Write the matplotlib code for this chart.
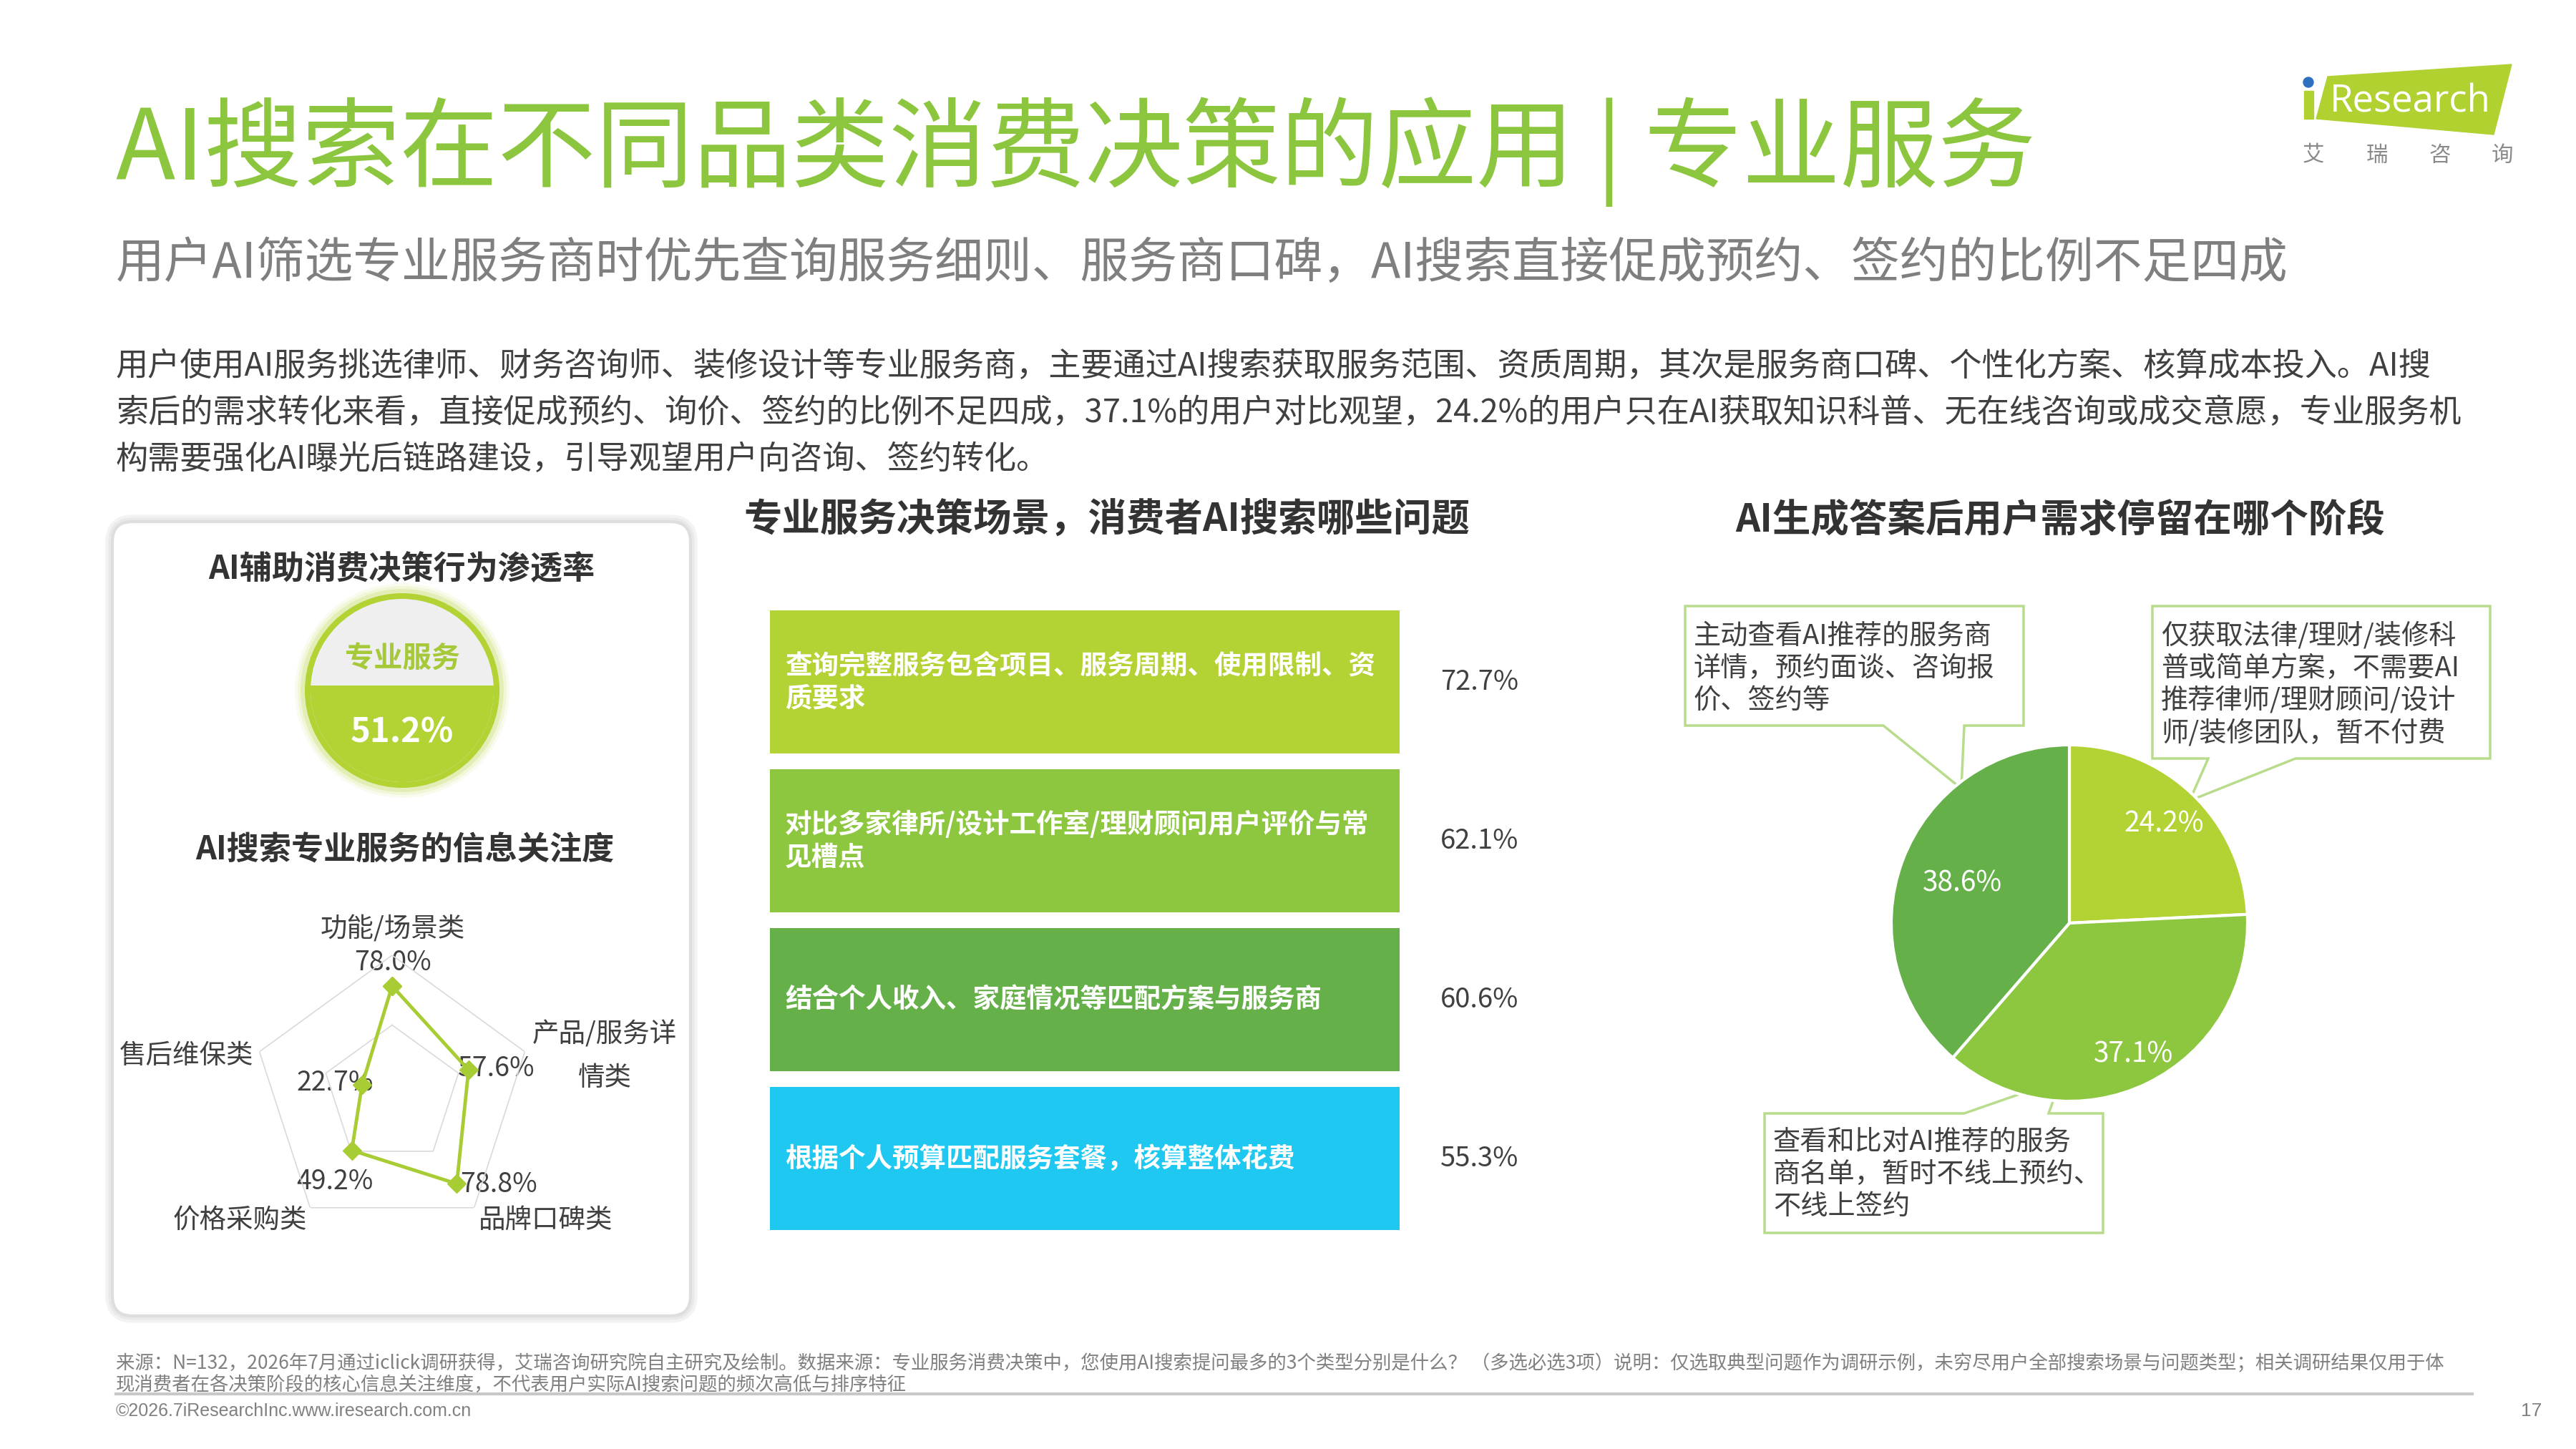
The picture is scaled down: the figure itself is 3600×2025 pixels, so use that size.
import numpy as np
import matplotlib.pyplot as plt
from matplotlib.patches import Circle, Rectangle, Polygon, FancyBboxPatch

plt.rcParams['font.family'] = ['Noto Sans CJK SC', 'DejaVu Sans']

# 数据
penetration = 51.2

radar_labels = ['功能/场景类', '产品/服务详\n情类', '品牌口碑类', '价格采购类', '售后维保类']
radar_values = [78.0, 57.6, 78.8, 49.2, 22.7]

bar_labels = ['查询完整服务包含项目、服务周期、使用限制、资\n质要求',
              '对比多家律所/设计工作室/理财顾问用户评价与常\n见槽点',
              '结合个人收入、家庭情况等匹配方案与服务商',
              '根据个人预算匹配服务套餐，核算整体花费']
bar_values = [72.7, 62.1, 60.6, 55.3]

pie_labels = ['仅获取法律/理财/装修科\n普或简单方案，不需要AI\n推荐律师/理财顾问/设计\n师/装修团队，暂不付费',
              '查看和比对AI推荐的服务\n商名单，暂时不线上预约、\n不线上签约',
              '主动查看AI推荐的服务商\n详情，预约面谈、咨询报\n价、签约等']
pie_values = [24.2, 37.1, 38.6]

body_lines = [
    '用户使用AI服务挑选律师、财务咨询师、装修设计等专业服务商，主要通过AI搜索获取服务范围、资质周期，其次是服务商口碑、个性化方案、核算成本投入。AI搜',
    '索后的需求转化来看，直接促成预约、询价、签约的比例不足四成，37.1%的用户对比观望，24.2%的用户只在AI获取知识科普、无在线咨询或成交意愿，专业服务机',
    '构需要强化AI曝光后链路建设，引导观望用户向咨询、签约转化。',
]
foot_lines = [
    '来源：N=132，2026年7月通过iclick调研获得，艾瑞咨询研究院自主研究及绘制。数据来源：专业服务消费决策中，您使用AI搜索提问最多的3个类型分别是什么？ （多选必选3项）说明：仅选取典型问题作为调研示例，未穷尽用户全部搜索场景与问题类型；相关调研结果仅用于体',
    '现消费者在各决策阶段的核心信息关注维度，不代表用户实际AI搜索问题的频次高低与排序特征',
]

GREEN_T = '#8cc63f'
G1, G2, G3, CYAN = '#b3d234', '#8dc63f', '#66b04a', '#1fc8f0'
DARK = '#404040'
GREY = '#808080'

W, H = 3600, 2025
fig = plt.figure(figsize=(36, 20.25), dpi=100)
bg = fig.add_axes([0, 0, 1, 1])
bg.set_xlim(0, W)
bg.set_ylim(H, 0)
bg.axis('off')

# 标题
bg.text(162, 212, 'AI搜索在不同品类消费决策的应用 | 专业服务', fontsize=98.5, color=GREEN_T, va='center')
bg.text(162, 369, '用户AI筛选专业服务商时优先查询服务细则、服务商口碑，AI搜索直接促成预约、签约的比例不足四成',
        fontsize=48.8, color='#7f7f7f', va='center')
for i, line in enumerate(body_lines):
    bg.text(162, 512 + i * 65, line, fontsize=32.5, color=DARK, va='center')

# logo
bg.add_patch(Polygon([(3253, 107), (3510, 90), (3485, 188), (3237, 166)], closed=True, color='#b0d130'))
bg.add_patch(Rectangle((3220, 127), 13, 39, color='#b0d130'))
bg.add_patch(Circle((3226, 115), 7, color='#2e6fc0'))
bg.text(3256, 143, 'Research', fontsize=38, color='white', va='center', family='Open Sans')
for x, ch in zip([3233, 3322, 3410, 3497], '艾瑞咨询'):
    bg.text(x, 217, ch, fontsize=22, color='#8a8a8a', ha='center', va='center')

# 左侧面板
for lw, c in [(14, '#f3f3f3'), (8, '#e9e9e9'), (3, '#dedede')]:
    bg.add_patch(FancyBboxPatch((157, 729), 808, 1110, boxstyle='round,pad=0,rounding_size=28',
                                facecolor='white', edgecolor=c, linewidth=lw))
bg.text(561, 796, 'AI辅助消费决策行为渗透率', fontsize=32.5, weight='bold', color='#333333',
        ha='center', va='center')
bg.text(566, 1188, 'AI搜索专业服务的信息关注度', fontsize=32.5, weight='bold', color='#333333',
        ha='center', va='center')

cx, cy = 562, 965
for r, a in [(150, 0.08), (146, 0.12), (142, 0.2)]:
    bg.add_patch(Circle((cx, cy), r, color=G1, alpha=a, lw=0))
bg.add_patch(Circle((cx, cy), 136, color=G1, lw=0))
inner = Circle((cx, cy), 128, color='#efefef', lw=0)
bg.add_patch(inner)
lower = Rectangle((cx - 140, 958), 280, 200, color=G1, lw=0)
bg.add_patch(lower)
lower.set_clip_path(inner)
bg.text(cx, 920, '专业服务', fontsize=29, weight='bold', color='#a6c93a', ha='center', va='center')
bg.text(cx, 1023, f'{penetration}%', fontsize=34, weight='bold', color='white', ha='center', va='center')

# 雷达图
rx, ry, R = 548, 1530, 195
ax_r = fig.add_axes([(rx - R) / W, 1 - (ry + R) / H, 2 * R / W, 2 * R / H], projection='polar')
ax_r.set_theta_offset(np.pi / 2)
ax_r.set_theta_direction(-1)
angles = np.linspace(0, 2 * np.pi, len(radar_values), endpoint=False)
ang_c = np.append(angles, angles[0])
for lev in [50, 100]:
    ax_r.plot(ang_c, [lev] * len(ang_c), color='#dadada', lw=1.2)
vals_c = np.append(radar_values, radar_values[0])
ax_r.plot(ang_c, vals_c, color='#a8cd34', lw=3.5, marker='D', ms=13, mfc='#a8cd34', mec='#a8cd34')
ax_r.set_ylim(0, 100)
ax_r.set_xticks([])
ax_r.set_yticks([])
ax_r.grid(False)
ax_r.spines['polar'].set_visible(False)
ax_r.patch.set_alpha(0)

label_pos = [(549, 1299), (845, 1476), (763, 1705), (335, 1705), (261, 1475)]
value_pos = [(549, 1346), (693, 1493), (697, 1656), (468, 1652), (468, 1514)]
for lab, v, lp, vp in zip(radar_labels, radar_values, label_pos, value_pos):
    bg.text(lp[0], lp[1], lab, fontsize=27, color=DARK, ha='center', va='center', linespacing=1.7)
    bg.text(vp[0], vp[1], f'{v:.1f}%', fontsize=27, color=DARK, ha='center', va='center')

# 中间条形
bg.text(1547, 727, '专业服务决策场景，消费者AI搜索哪些问题', fontsize=38.5, weight='bold',
        color='#333333', ha='center', va='center')
ax_b = fig.add_axes([1076 / W, 1 - 1730 / H, 880 / W, 888 / H])
y = np.arange(len(bar_values))
ax_b.barh(y, np.ones(len(bar_values)), height=0.9, color=[G1, G2, G3, CYAN])
ax_b.set_xlim(0, 1)
ax_b.set_ylim(len(bar_values) - 0.5, -0.5)
ax_b.axis('off')
for yi, lab, v in zip(y, bar_labels, bar_values):
    ax_b.text(0.024, yi, lab, fontsize=27, weight='bold', color='white', va='center', linespacing=1.2)
    ax_b.text(1.065, yi, f'{v}%', fontsize=27.5, color=DARK, va='center', clip_on=False)

# 饼图
bg.text(2879, 727, 'AI生成答案后用户需求停留在哪个阶段', fontsize=38.5, weight='bold',
        color='#333333', ha='center', va='center')
px, py, pr = 2892, 1290, 249
ax_p = fig.add_axes([(px - pr) / W, 1 - (py + pr) / H, 2 * pr / W, 2 * pr / H])
wedges, _ = ax_p.pie(pie_values, colors=[G1, G2, G3], startangle=90, counterclock=False,
                     wedgeprops=dict(edgecolor='white', linewidth=3))
ax_p.set_xlim(-1, 1)
ax_p.set_ylim(-1, 1)
for w, v, d in zip(wedges, pie_values, [0.77, 0.82, 0.64]):
    t = np.deg2rad((w.theta1 + w.theta2) / 2)
    ax_p.text(d * np.cos(t), d * np.sin(t), f'{v}%', fontsize=28, color='white', ha='center', va='center')

box_shapes = [
    [(3008, 847), (3480, 847), (3480, 1060), (3208, 1060), (3060, 1119), (3086, 1060), (3008, 1060)],
    [(2466, 1556), (2745, 1556), (2880, 1509), (2863, 1556), (2939, 1556), (2939, 1723), (2466, 1723)],
    [(2355, 847), (2828, 847), (2828, 1014), (2745, 1014), (2741, 1102), (2632, 1014), (2355, 1014)],
]
text_pos = [(3020, 957), (2478, 1641), (2367, 934)]
for shape, lab, tp in zip(box_shapes, pie_labels, text_pos):
    bg.add_patch(Polygon(shape, closed=True, facecolor='white', edgecolor='#b8dc8c', lw=2.5))
    bg.text(tp[0], tp[1], lab, fontsize=27.5, color=DARK, va='center', linespacing=1.2)

# 脚注
bg.text(162, 1906, foot_lines[0], fontsize=19, color=GREY, va='center')
bg.text(162, 1935, foot_lines[1], fontsize=19, color=GREY, va='center')
bg.plot([162, 3455], [1948, 1948], color='#c8c8c8', lw=3)
bg.text(162, 1972, '©2026.7iResearchInc.www.iresearch.com.cn', fontsize=18, color=GREY, va='center',
        family='Liberation Sans')
bg.text(3538, 1972, '17', fontsize=19, color=GREY, ha='center', va='center', family='Liberation Sans')

fig.savefig('out.png', dpi=100)
